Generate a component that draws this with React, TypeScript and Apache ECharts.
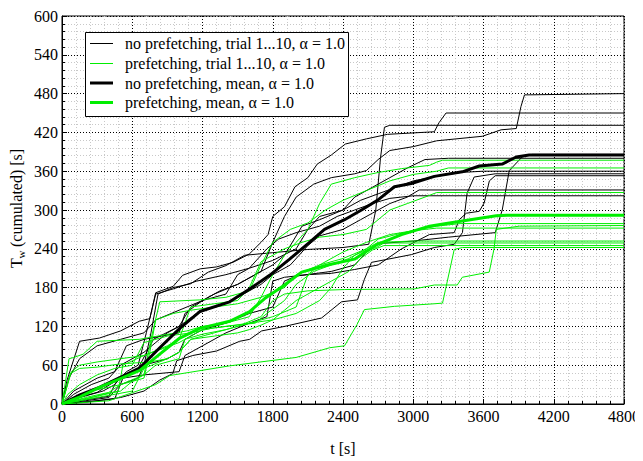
import React, { useEffect, useRef } from "react";
import * as echarts from "echarts";

type P = [number, number][];

// ---- no prefetching, single trials (t [s], Tw [s]) ----
const npTrial1: P = [[0,0],[150,5],[400,12],[480,40],[650,55],[780,100],[1000,120],[1100,150],[1300,170],[1500,185],[1700,205],[1800,250],[1900,290],[2000,320],[2150,340],[2300,350],[2500,356],[2600,361],[2700,378],[2800,392],[3000,398],[3200,407],[3590,414],[3750,424],[3880,426],[3920,460],[3950,478],[4800,480]];
const npTrial2: P = [[0,0],[40,35],[150,97],[320,102],[500,113],[660,128],[750,132],[800,172],[950,182],[1030,199],[1180,209],[1320,212],[1460,219],[1600,232],[1700,250],[1760,262],[1800,290],[1900,305],[1990,336],[2100,350],[2180,371],[2300,385],[2420,402],[2600,410],[2780,417],[3180,421],[3220,435],[3280,450],[4800,450]];
const npTrial3: P = [[0,0],[100,8],[300,18],[500,40],[700,60],[760,110],[820,170],[950,180],[1100,186],[1250,204],[1400,214],[1560,230],[1800,234],[2100,239],[2400,242],[2620,247],[2680,300],[2720,380],[2754,428],[2800,431],[4800,431]];
const npTrial4: P = [[0,0],[200,5],[400,10],[500,30],[650,40],[700,60],[900,70],[1000,80],[1050,100],[1200,115],[1400,125],[1600,140],[1800,150],[1900,190],[2000,198],[2300,205],[2500,215],[2600,235],[2700,248],[3000,252],[3300,258],[3700,265],[3760,300],[3820,361],[3930,382],[4015,386],[4800,386]];
const npTrial5: P = [[0,0],[100,20],[300,40],[450,50],[550,90],[700,100],[850,105],[1000,110],[1050,140],[1200,160],[1400,170],[1500,200],[1600,210],[1800,222],[2000,240],[2100,270],[2200,290],[2400,300],[2500,320],[2650,335],[2800,350],[2950,365],[3100,378],[3300,380],[4800,380]];
const npTrial6: P = [[0,0],[300,5],[500,10],[700,20],[835,37],[946,47],[980,67],[1117,75],[1321,82],[1518,97],[1603,100],[1705,113],[1901,120],[2217,133],[2387,158],[2524,161],[2583,193],[2643,219],[2984,231],[3180,242],[3350,247],[3420,265],[3460,326],[3520,351],[3700,356],[4800,356]];
const npTrial7: P = [[0,0],[200,3],[450,8],[520,40],[700,45],[1000,50],[1050,75],[1200,90],[1400,110],[1600,125],[1750,135],[1800,190],[1900,196],[2100,200],[2300,202],[2500,208],[2700,215],[2900,240],[3138,262],[3350,265],[3393,285],[3453,295],[3564,298],[3606,311],[3650,345],[3700,353],[4800,353]];
const npTrial8: P = [[0,0],[100,15],[250,30],[400,40],[500,60],[600,70],[700,80],[800,95],[900,110],[1000,120],[1150,140],[1300,150],[1450,160],[1600,175],[1700,185],[1800,200],[1950,215],[2100,245],[2200,260],[2400,270],[2550,285],[2650,295],[2800,310],[2950,320],[3050,331],[4800,331]];
const npTrial9: P = [[0,0],[150,10],[350,20],[450,30],[550,50],[650,60],[720,110],[800,170],[950,178],[1150,190],[1400,200],[1600,210],[1750,240],[1850,255],[2000,265],[2200,275],[2350,290],[2500,300],[2650,310],[2800,318],[3000,322],[4800,322]];
const npTrial10: P = [[0,0],[60,40],[150,70],[300,90],[500,100],[700,110],[800,130],[1000,145],[1200,160],[1350,175],[1500,185],[1650,200],[1800,215],[1900,230],[2050,275],[2200,285],[2400,300],[2550,315],[2700,325],[2850,335],[3000,345],[3200,352],[3400,358],[3600,360],[4800,360]];

// ---- prefetching, single trials ----
const pfTrial1: P = [[0,0],[60,70],[100,72],[180,77],[300,97],[660,100],[1066,113],[1200,120],[1400,125],[1600,135],[1700,165],[1800,200],[1900,230],[2000,250],[2100,270],[2200,310],[2300,340],[2500,350],[2700,358],[2900,364],[3138,369],[3200,374],[3250,377],[4800,377]];
const pfTrial2: P = [[0,0],[100,10],[250,20],[500,30],[700,45],[760,100],[835,158],[1177,161],[1400,165],[1600,175],[1700,215],[1800,250],[1950,270],[2100,280],[2250,300],[2400,315],[2600,330],[2800,345],[3000,355],[3200,360],[3300,365],[4800,365]];
const pfTrial3: P = [[0,0],[150,5],[350,15],[480,20],[520,60],[700,75],[900,90],[1000,100],[1100,150],[1300,155],[1500,160],[1600,180],[1700,220],[1900,240],[2050,250],[2200,258],[2400,262],[2600,270],[2800,300],[2950,310],[3100,320],[3200,327],[4800,327]];
const pfTrial4: P = [[0,0],[200,10],[400,18],[500,30],[700,40],[750,80],[800,130],[950,140],[1100,145],[1300,150],[1500,155],[1700,165],[1900,180],[2000,200],[2200,215],[2400,235],[2600,250],[2800,262],[3000,268],[3200,275],[3400,279],[4800,279]];
const pfTrial5: P = [[0,0],[300,10],[600,20],[700,55],[900,70],[1000,80],[1100,100],[1300,110],[1500,120],[1700,135],[1800,160],[1900,170],[2100,175],[2413,177],[3010,178],[3180,184],[3376,184],[3419,196],[3649,204],[3690,240],[3709,270],[3905,275],[4800,276]];
const pfTrial6: P = [[0,0],[50,15],[150,30],[300,45],[450,55],[600,60],[700,95],[900,105],[1100,110],[1300,118],[1500,122],[1650,125],[1750,140],[1900,160],[2000,185],[2150,205],[2300,215],[2450,225],[2600,240],[2700,255],[2850,262],[3000,268],[3200,272],[4800,272]];
const pfTrial7: P = [[0,0],[100,5],[300,12],[500,20],[600,35],[700,45],[800,60],[1000,70],[1050,100],[1200,108],[1400,115],[1600,125],[1800,135],[2000,150],[2100,200],[2200,215],[2400,225],[2600,240],[2700,250],[3000,252],[4800,252]];
const pfTrial8: P = [[0,0],[80,50],[150,60],[300,65],[500,70],[700,75],[1000,95],[1200,115],[1400,120],[1600,125],[1800,130],[2000,140],[2100,150],[2200,160],[2300,180],[2400,210],[2500,230],[2600,238],[2686,242],[2750,249],[4800,249]];
const pfTrial9: P = [[0,0],[70,47],[150,55],[300,57],[500,62],[750,65],[900,70],[1000,80],[1100,100],[1300,105],[1500,110],[1600,115],[1700,122],[1800,130],[1900,145],[2000,160],[2150,175],[2300,190],[2450,205],[2550,225],[2650,238],[2750,245],[4800,245]];
const pfTrial10: P = [[0,0],[400,5],[800,30],[921,44],[1432,59],[2000,72],[2286,87],[2413,90],[2520,123],[2583,146],[2839,151],[3180,155],[3250,156],[3350,239],[3419,242],[4800,242]];

// ---- means ----
const npMean: P = [[0,0],[153,14],[324,26],[494,41],[665,56],[835,87],[1006,117],[1177,143],[1432,158],[1603,178],[1773,199],[1944,224],[2114,250],[2242,270],[2413,285],[2558,300],[2694,315],[2839,336],[2984,341],[3180,352],[3419,359],[3564,368],[3760,371],[3879,382],[3990,385],[4800,385]];
const pfMean: P = [[0,0],[153,11],[324,26],[494,39],[665,52],[835,77],[1006,102],[1177,117],[1432,128],[1603,143],[1731,163],[1901,184],[2046,204],[2268,215],[2498,224],[2694,247],[2900,262],[3138,275],[3308,280],[3709,291],[3800,292],[4800,292]];

const legendNames = [
  "no prefetching, trial 1...10, α = 1.0",
  "prefetching, trial 1...10, α = 1.0",
  "no prefetching, mean, α = 1.0",
  "prefetching, mean, α = 1.0",
];
const xMin = 0, xMax = 4800, xStep = 600;
const yMin = 0, yMax = 600, yStep = 60;

const FONT = "Liberation Serif";
const GREEN = "#00ee00";

export default function App() {
  const ref = useRef<HTMLDivElement>(null);
  useEffect(() => {
    if (!ref.current) return;
    const chart = echarts.init(ref.current, null, { renderer: "svg" });
    const npTrials = [npTrial1, npTrial2, npTrial3, npTrial4, npTrial5, npTrial6, npTrial7, npTrial8, npTrial9, npTrial10];
    const pfTrials = [pfTrial1, pfTrial2, pfTrial3, pfTrial4, pfTrial5, pfTrial6, pfTrial7, pfTrial8, pfTrial9, pfTrial10];
    const mk = (d: P, name: string, color: string, width: number, z: number) => ({
      type: "line", name, data: d, symbol: "none", silent: true, z,
      lineStyle: { color, width },
    });
    const series: any[] = [];
    npTrials.forEach((d) => series.push(mk(d, legendNames[0], "#000", 1, 2)));
    pfTrials.forEach((d) => series.push(mk(d, legendNames[1], GREEN, 1, 3)));
    series.push(mk(npMean, legendNames[2], "#000", 3, 4));
    series.push(mk(pfMean, legendNames[3], GREEN, 3, 5));

    // the chart div sits at the body's 8px margin, so coordinates here are page - 8
    const legendY = [35.5, 55.5, 75, 94.5];
    const legendStyle = [
      { c: "#000", w: 1 }, { c: GREEN, w: 1 }, { c: "#000", w: 3 }, { c: GREEN, w: 3 },
    ];
    const graphic: any[] = [
      { type: "rect", shape: { x: 77.5, y: 24.5, width: 263, height: 84 }, style: { fill: "#fff", stroke: "#000", lineWidth: 1 }, z: 10 },
      {
        type: "group", x: 8, y: 260, rotation: Math.PI / 2,
        children: [
          { type: "text", x: 0, y: 0, style: { text: "T", fill: "#000", fontFamily: FONT, fontSize: 16, verticalAlign: "middle" } },
          { type: "text", x: 9.5, y: 5, style: { text: "w", fill: "#000", fontFamily: FONT, fontSize: 11, verticalAlign: "middle" } },
          { type: "text", x: 17, y: 0, style: { text: " (cumulated) [s]", fill: "#000", fontFamily: FONT, fontSize: 16, verticalAlign: "middle" } },
        ],
      },
    ];
    legendNames.forEach((n, i) => {
      graphic.push({ type: "line", shape: { x1: 82, y1: legendY[i], x2: 105, y2: legendY[i] }, style: { stroke: legendStyle[i].c, lineWidth: legendStyle[i].w }, z: 11 });
      graphic.push({ type: "text", x: 117, y: legendY[i], style: { text: n, fill: "#000", fontFamily: FONT, fontSize: 16, verticalAlign: "middle" }, z: 11 });
    });

    const axisCommon = {
      type: "value",
      axisLine: { show: true, lineStyle: { color: "#000", width: 1 } },
      axisTick: { show: true, inside: true, length: 5, lineStyle: { color: "#000" } },
      minorTick: { show: true, splitNumber: 5, length: 3, lineStyle: { color: "#000" } },
      splitLine: { show: true, lineStyle: { color: "#000", type: [1, 2], width: 1 } },
      minorSplitLine: { show: true, lineStyle: { color: "#c8c8c8", type: [1, 2], width: 1 } },
    };

    chart.setOption({
      animation: false,
      grid: { left: 54, right: 18, top: 2, bottom: 57, show: true, borderColor: "#000", borderWidth: 1 },
      xAxis: {
        ...axisCommon, min: xMin, max: xMax, interval: xStep,
        axisLabel: { color: "#000", fontFamily: FONT, fontSize: 16, margin: 4, formatter: (v: number) => String(v) },
        name: "t [s]", nameLocation: "middle", nameGap: 36,
        nameTextStyle: { color: "#000", fontFamily: FONT, fontSize: 16 },
      },
      yAxis: {
        ...axisCommon, min: yMin, max: yMax, interval: yStep,
        axisLabel: { color: "#000", fontFamily: FONT, fontSize: 16, margin: 4, formatter: (v: number) => String(v) },
      },
      series,
      graphic,
    });
    try {
      const el = ref.current;
      el.style.overflow = "visible";
      el.querySelectorAll("div").forEach((d) => ((d as HTMLElement).style.overflow = "visible"));
      el.querySelectorAll("svg").forEach((s) => ((s as any).style.overflow = "visible"));
    } catch (e) {}
    return () => chart.dispose();
  }, []);
  return <div ref={ref} style={{ width: 635, height: 453, overflow: "visible" }} />;
}
